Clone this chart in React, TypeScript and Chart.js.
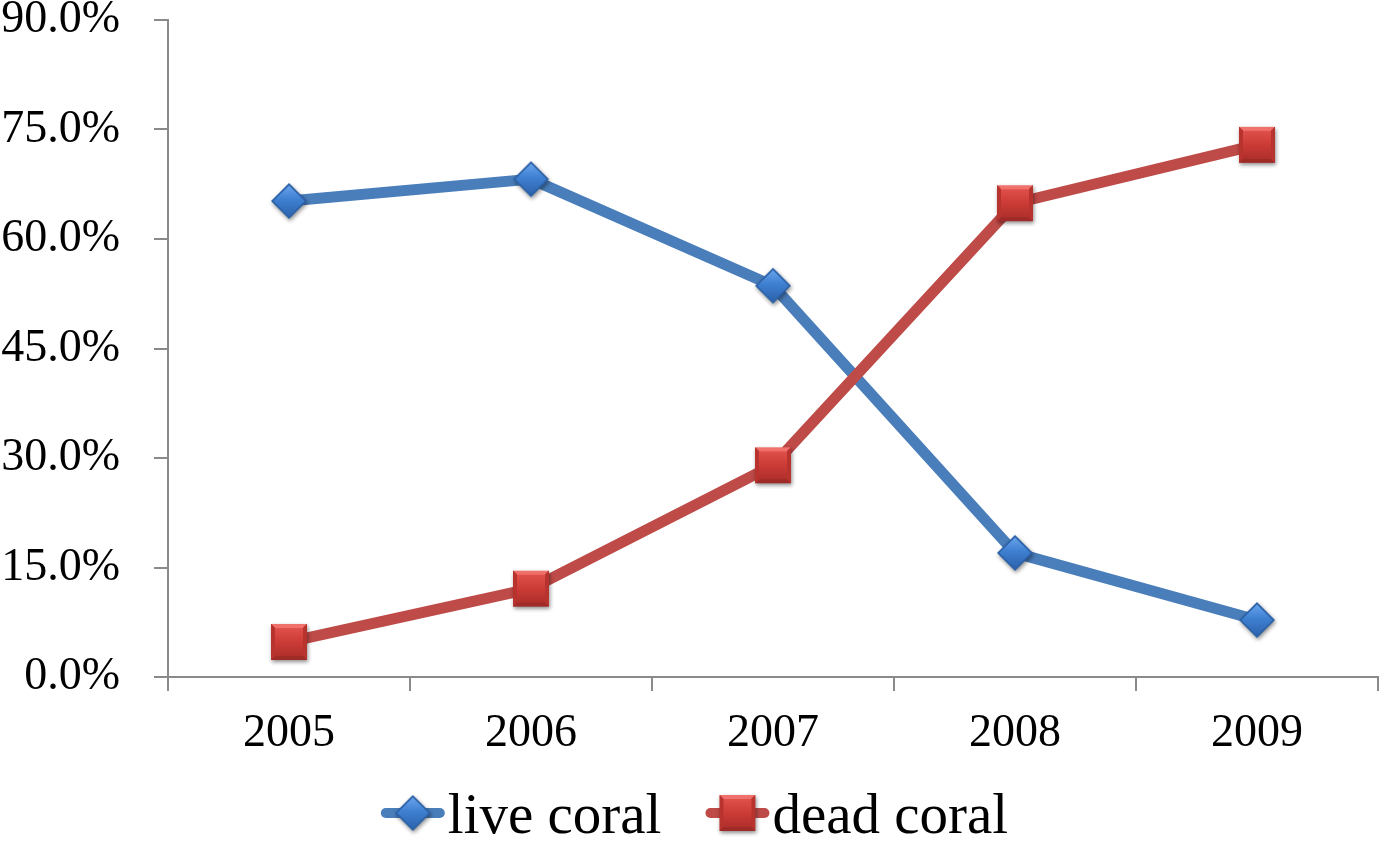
import React, { useEffect, useRef } from 'react';
import { Chart, registerables } from 'chart.js';

Chart.register(...registerables);

const years = ['2005', '2006', '2007', '2008', '2009'];
const liveCoral = [65.2, 68.2, 53.6, 17.0, 7.8];
const deadCoral = [4.8, 12.1, 29.0, 64.9, 72.9];
const seriesLabels = ['live coral', 'dead coral'];
const yMin = 0;
const yMax = 90;
const yStep = 15;

const BLUE = '#4A7EBB';
const RED = '#BE4B48';
const AXIS = '#8A8A8A';
const FONT = '"Liberation Serif", "Times New Roman", serif';

function makeDiamond(size: number): HTMLCanvasElement {
  const pad = 6;
  const S = size + pad * 2;
  const c = document.createElement('canvas');
  c.width = S;
  c.height = S;
  const g = c.getContext('2d')!;
  const cx = S / 2;
  const cy = S / 2;
  const r = size / 2;
  const path = (rr: number) => {
    g.beginPath();
    g.moveTo(cx, cy - rr);
    g.lineTo(cx + rr, cy);
    g.lineTo(cx, cy + rr);
    g.lineTo(cx - rr, cy);
    g.closePath();
  };
  g.save();
  g.shadowColor = 'rgba(0,0,0,0.45)';
  g.shadowBlur = 4;
  g.shadowOffsetX = 1;
  g.shadowOffsetY = 2;
  path(r);
  g.fillStyle = '#2C62A8';
  g.fill();
  g.restore();
  const grad = g.createLinearGradient(cx, cy - r, cx, cy + r);
  grad.addColorStop(0, '#6FAAF0');
  grad.addColorStop(0.45, '#3F80D2');
  grad.addColorStop(1, '#2B60A8');
  path(r - 2.5);
  g.fillStyle = grad;
  g.fill();
  return c;
}

function makeSquare(size: number): HTMLCanvasElement {
  const pad = 6;
  const S = size + pad * 2;
  const c = document.createElement('canvas');
  c.width = S;
  c.height = S;
  const g = c.getContext('2d')!;
  const x0 = pad;
  const y0 = pad;
  g.save();
  g.shadowColor = 'rgba(0,0,0,0.45)';
  g.shadowBlur = 4;
  g.shadowOffsetX = 1;
  g.shadowOffsetY = 2;
  g.fillStyle = '#9E2B28';
  g.fillRect(x0, y0, size, size);
  g.restore();
  g.fillStyle = '#F0706B';
  g.beginPath();
  g.moveTo(x0, y0);
  g.lineTo(x0 + size, y0);
  g.lineTo(x0 + size - 4, y0 + 4);
  g.lineTo(x0 + 4, y0 + 4);
  g.closePath();
  g.fill();
  g.fillStyle = '#B8322E';
  g.beginPath();
  g.moveTo(x0, y0);
  g.lineTo(x0 + 4, y0 + 4);
  g.lineTo(x0 + 4, y0 + size - 4);
  g.lineTo(x0, y0 + size);
  g.closePath();
  g.fill();
  g.beginPath();
  g.moveTo(x0 + size, y0);
  g.lineTo(x0 + size - 4, y0 + 4);
  g.lineTo(x0 + size - 4, y0 + size - 4);
  g.lineTo(x0 + size, y0 + size);
  g.closePath();
  g.fill();
  const grad = g.createLinearGradient(0, y0 + 4, 0, y0 + size - 4);
  grad.addColorStop(0, '#E0504B');
  grad.addColorStop(0.5, '#CC3B36');
  grad.addColorStop(1, '#B0302C');
  g.fillStyle = grad;
  g.fillRect(x0 + 4, y0 + 4, size - 8, size - 8);
  return c;
}

function zeroPadding(scale: any) {
  scale.paddingTop = 0;
  scale.paddingBottom = 0;
  scale.paddingLeft = 0;
  scale.paddingRight = 0;
}

export default function App() {
  const ref = useRef<HTMLCanvasElement | null>(null);

  useEffect(() => {
    if (!ref.current) return;
    const diamond = makeDiamond(36);
    const square = makeSquare(36);

    const legendPlugin = {
      id: 'customLegend',
      afterDraw(chart: any) {
        const ctx = chart.ctx as CanvasRenderingContext2D;
        ctx.save();
        ctx.font = `57px ${FONT}`;
        const items = [
          { label: seriesLabels[0], color: BLUE, img: diamond },
          { label: seriesLabels[1], color: RED, img: square },
        ];
        const lineLen = 64;
        const gap = 3;
        const itemGap = 44;
        const widths = items.map((it) => lineLen + gap + ctx.measureText(it.label).width);
        const total = widths.reduce((a, b) => a + b, 0) + itemGap * (items.length - 1);
        let x = (chart.width - total) / 2 + 5;
        const yLine = 813;
        const yText = 833;
        items.forEach((it, i) => {
          ctx.strokeStyle = it.color;
          ctx.lineWidth = 10;
          ctx.lineCap = 'round';
          ctx.beginPath();
          ctx.moveTo(x + 5, yLine);
          ctx.lineTo(x + lineLen - 5, yLine);
          ctx.stroke();
          ctx.drawImage(it.img, x + lineLen / 2 - it.img.width / 2, yLine - it.img.height / 2);
          ctx.fillStyle = '#000';
          ctx.textBaseline = 'alphabetic';
          ctx.textAlign = 'left';
          ctx.fillText(it.label, x + lineLen + gap, yText);
          x += widths[i] + itemGap;
        });
        ctx.restore();
      },
    };

    const chart = new Chart(ref.current, {
      type: 'line',
      data: {
        labels: years,
        datasets: [
          {
            label: seriesLabels[0],
            data: liveCoral,
            borderColor: BLUE,
            backgroundColor: BLUE,
            borderWidth: 11,
            borderJoinStyle: 'round',
            borderCapStyle: 'round',
            pointStyle: diamond as any,
            pointRadius: 5,
            pointBorderWidth: 0,
            order: 1,
          },
          {
            label: seriesLabels[1],
            data: deadCoral,
            borderColor: RED,
            backgroundColor: RED,
            borderWidth: 11,
            borderJoinStyle: 'round',
            borderCapStyle: 'round',
            pointStyle: square as any,
            pointRadius: 5,
            pointBorderWidth: 0,
            order: 0,
          },
        ],
      },
      options: {
        responsive: false,
        animation: false,
        layout: { autoPadding: false, padding: { top: 20, right: 1, bottom: 80, left: 0 } },
        plugins: {
          legend: { display: false },
          tooltip: { enabled: false },
        },
        scales: {
          x: {
            offset: true,
            grid: {
              offset: true,
              drawOnChartArea: false,
              drawTicks: true,
              tickLength: 14,
              color: AXIS,
              lineWidth: 2,
            },
            border: { display: true, color: AXIS, width: 2 },
            ticks: {
              color: '#000',
              font: { family: FONT, size: 46 },
              padding: 15,
              maxRotation: 0,
            },
            afterFit: (scale: any) => {
              scale.height = 84;
              zeroPadding(scale);
            },
          },
          y: {
            min: yMin,
            max: yMax,
            grid: {
              drawOnChartArea: false,
              drawTicks: true,
              tickLength: 14,
              color: AXIS,
              lineWidth: 2,
            },
            border: { display: true, color: AXIS, width: 2 },
            ticks: {
              stepSize: yStep,
              color: '#000',
              font: { family: FONT, size: 46 },
              padding: 34,
              callback: (v: any) => Number(v).toFixed(1) + '%',
            },
            afterFit: (scale: any) => {
              scale.width = 168;
              zeroPadding(scale);
            },
          },
        },
      },
      plugins: [legendPlugin],
    });

    return () => chart.destroy();
  }, []);

  return (
    <div style={{ position: 'fixed', left: 0, top: 0, width: 1379, height: 841, background: '#fff' }}>
      <canvas ref={ref} width={1379} height={841} style={{ display: 'block' }} />
    </div>
  );
}
